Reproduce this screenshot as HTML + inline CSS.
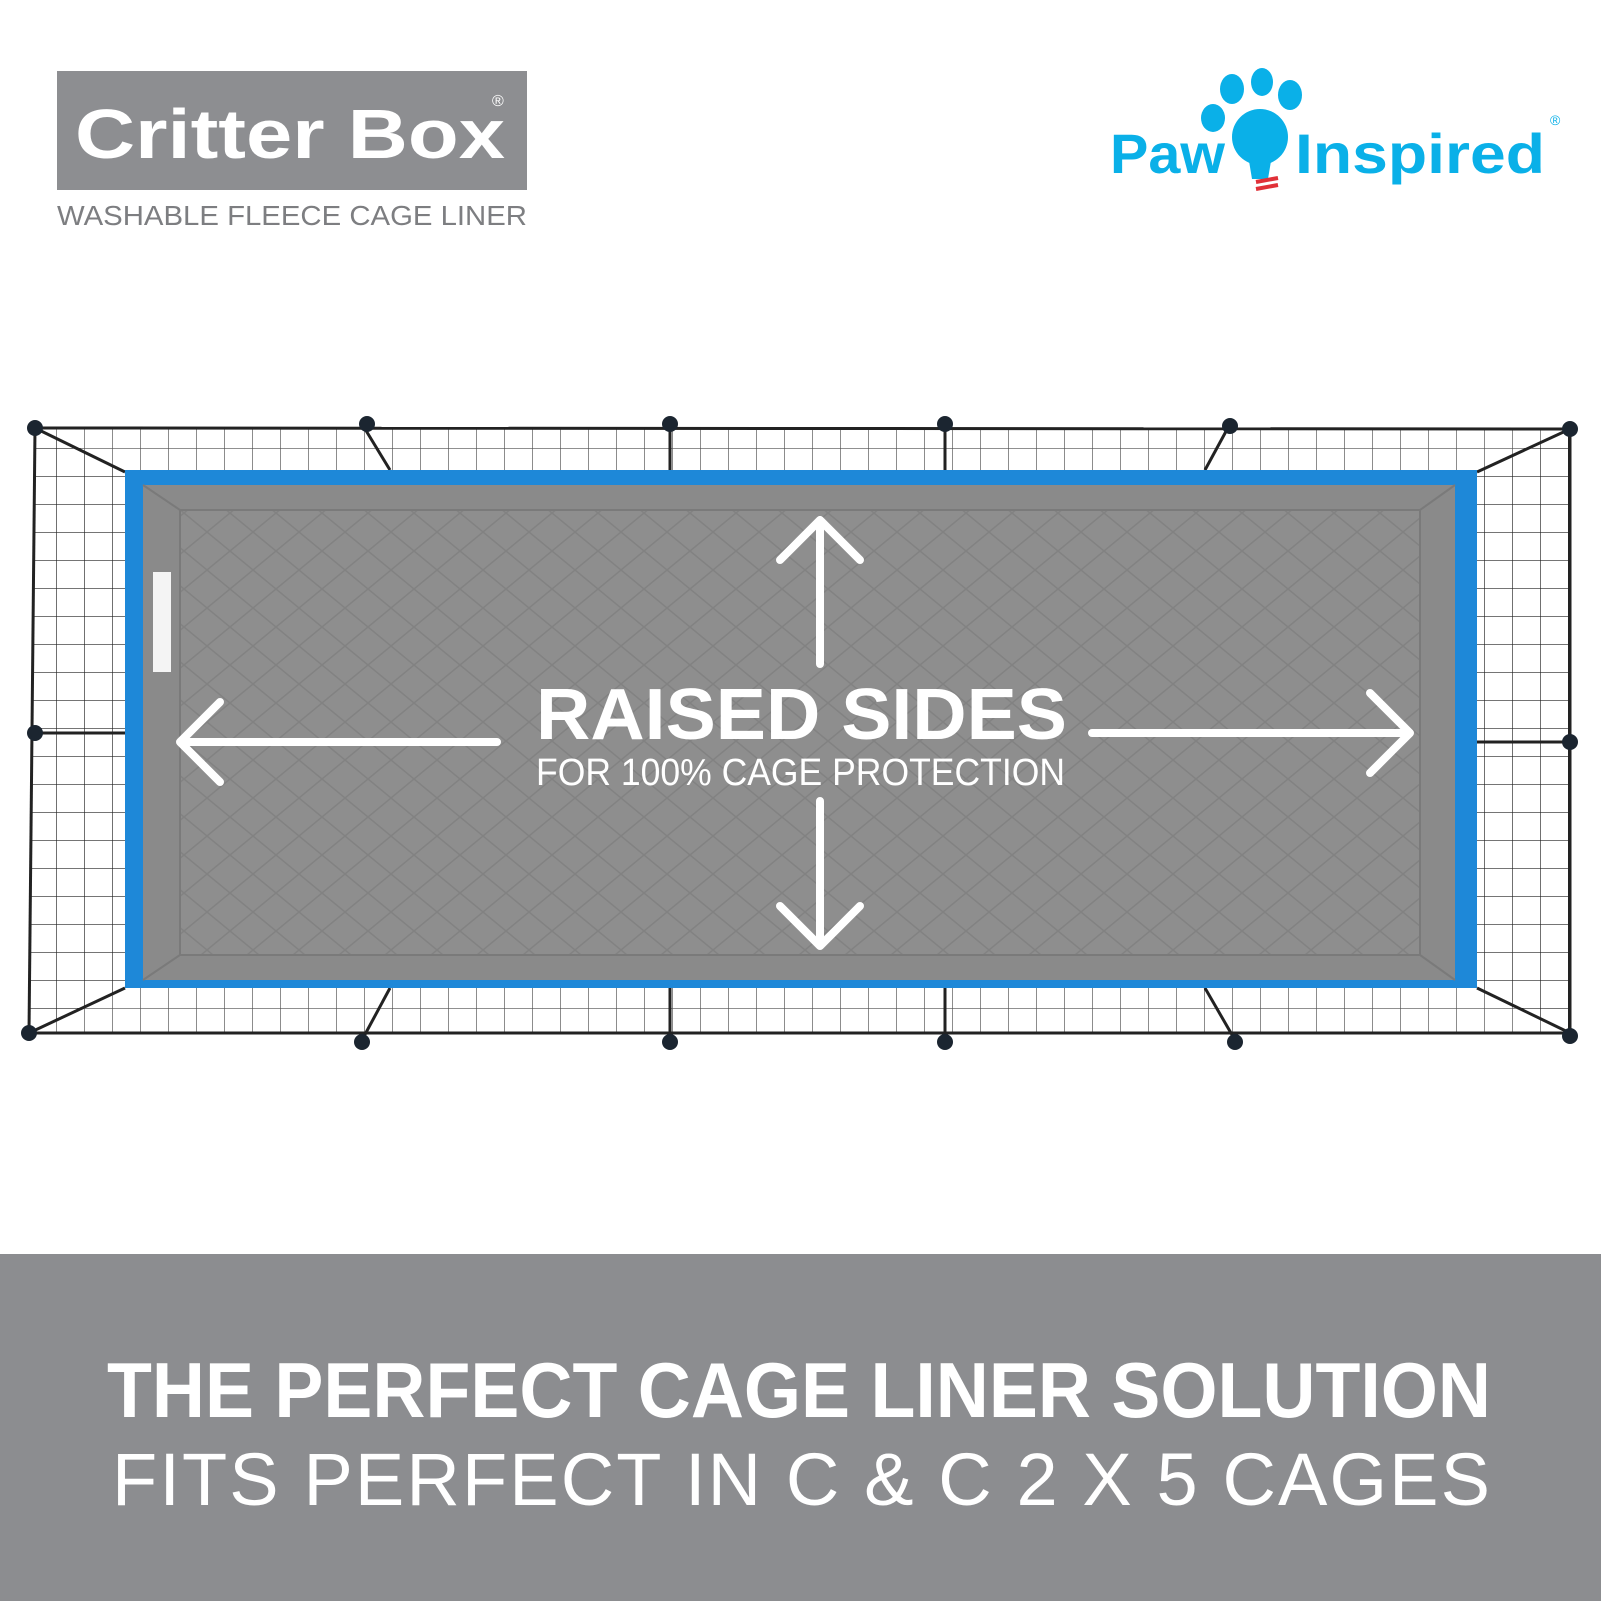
<!DOCTYPE html>
<html><head><meta charset="utf-8"><style>
body{margin:0;width:1601px;height:1601px;background:#fff;position:relative;overflow:hidden;font-family:"Liberation Sans",sans-serif}
.abs{position:absolute}
</style></head><body>
<svg class="abs" style="left:0;top:0" width="1601" height="1601">
<defs>
<pattern id="g" width="28" height="28" patternUnits="userSpaceOnUse"><path d="M0 0H28M0 0V28" stroke="#222" stroke-width="1.3" fill="none"/></pattern>
<pattern id="q" width="46" height="38" patternUnits="userSpaceOnUse"><path d="M0 19L23 0L46 19L23 38Z" stroke="#737373" stroke-width="1.5" fill="none" opacity=".45"/></pattern>
</defs>
<rect x="57" y="71" width="470" height="119" fill="#8d8e91"/>
<text x="75" y="158" font-family="Liberation Sans" font-weight="bold" font-size="70" fill="#fff" textLength="430" lengthAdjust="spacingAndGlyphs">Critter Box</text>
<text x="492" y="106" font-family="Liberation Sans" font-size="16" fill="#fff">®</text>
<text x="57" y="225" font-family="Liberation Sans" font-size="28" fill="#7d7e81" textLength="470" lengthAdjust="spacingAndGlyphs">WASHABLE FLEECE CAGE LINER</text>
<!-- cage grid strips -->
<polygon points="35,428 1570,429 1477,470 125,470" fill="url(#g)" opacity=".8"/>
<polygon points="35,428 125,470 125,988 29,1033" fill="url(#g)"/>
<polygon points="1570,429 1477,470 1477,988 1570,1033" fill="url(#g)"/>
<polygon points="125,988 1477,988 1570,1033 29,1033" fill="url(#g)" opacity=".8"/>
<g stroke="#222" stroke-width="3">
<line x1="35" y1="428" x2="1570" y2="429"/><line x1="29" y1="1033" x2="1570" y2="1033"/>
<line x1="35" y1="428" x2="125" y2="472"/><line x1="1570" y1="429" x2="1477" y2="472"/>
<line x1="29" y1="1033" x2="125" y2="988"/><line x1="1570" y1="1033" x2="1477" y2="988"/>
<line x1="35" y1="428" x2="29" y2="1033"/><line x1="1570" y1="429" x2="1570" y2="1033"/>
<line x1="362" y1="424" x2="390" y2="470"/><line x1="670" y1="424" x2="670" y2="470"/><line x1="945" y1="424" x2="945" y2="470"/><line x1="1230" y1="424" x2="1205" y2="470"/>
<line x1="362" y1="1040" x2="390" y2="988"/><line x1="670" y1="1040" x2="670" y2="988"/><line x1="945" y1="1040" x2="945" y2="988"/><line x1="1235" y1="1040" x2="1205" y2="988"/>
<line x1="35" y1="733" x2="125" y2="733"/><line x1="1570" y1="742" x2="1477" y2="742"/>
</g>
<g fill="#1b2530">
<circle cx="35" cy="428" r="8"/><circle cx="367" cy="424" r="8"/><circle cx="670" cy="424" r="8"/><circle cx="945" cy="424" r="8"/><circle cx="1230" cy="426" r="8"/><circle cx="1570" cy="429" r="8"/>
<circle cx="29" cy="1033" r="8"/><circle cx="362" cy="1042" r="8"/><circle cx="670" cy="1042" r="8"/><circle cx="945" cy="1042" r="8"/><circle cx="1235" cy="1042" r="8"/><circle cx="1570" cy="1036" r="8"/>
<circle cx="35" cy="733" r="8"/><circle cx="1570" cy="742" r="8"/>
</g>
<!-- liner -->
<rect x="125" y="470" width="1352" height="518" fill="#1e88d8"/>
<rect x="143" y="485" width="1312" height="495" fill="#8a8a8a"/>
<rect x="180" y="510" width="1240" height="445" fill="#8e8e8e"/>
<rect x="180" y="510" width="1240" height="445" fill="url(#q)"/>
<g stroke="#7a7a7a" stroke-width="2" fill="none"><path d="M143 485L180 510L1420 510L1455 485M180 510V955L143 980M1420 510V955L1455 980M180 955H1420"/></g>
<rect x="153" y="572" width="18" height="100" fill="#f4f4f4"/>
<!-- arrows -->
<g stroke="#fff" stroke-width="8" fill="none" stroke-linecap="round" stroke-linejoin="round">
<path d="M820 664V520M780 560L820 520L860 560"/>
<path d="M820 801V946M780 906L820 946L860 906"/>
<path d="M497 742H180M220 702L180 742L220 782"/>
<path d="M1092 733H1410M1370 693L1410 733L1370 773"/>
</g>
<!-- paw inspired logo -->
<g fill="#0ab0e8">
<ellipse cx="1232" cy="89" rx="12" ry="15"/><ellipse cx="1262" cy="82" rx="11" ry="14"/><ellipse cx="1290" cy="95" rx="12" ry="15"/><ellipse cx="1213" cy="118" rx="12" ry="14"/>
<circle cx="1260" cy="137" r="28"/><path d="M1248 155h24l-4 24h-16z"/>
</g>
<g stroke="#e03038" stroke-width="4"><line x1="1256" y1="182" x2="1278" y2="178"/><line x1="1256" y1="189" x2="1278" y2="185"/></g>
<text x="1110" y="173" font-family="Liberation Sans" font-weight="bold" font-size="56" fill="#0ab0e8" textLength="115" lengthAdjust="spacingAndGlyphs">Paw</text>
<text x="1295" y="173" font-family="Liberation Sans" font-weight="bold" font-size="56" fill="#0ab0e8" textLength="250" lengthAdjust="spacingAndGlyphs">Inspired</text>
<text x="1550" y="125" font-family="Liberation Sans" font-size="14" fill="#0ab0e8">®</text>
<!-- raised sides -->
<text x="536" y="739" font-family="Liberation Sans" font-weight="bold" font-size="72" fill="#fff" textLength="531" lengthAdjust="spacingAndGlyphs">RAISED SIDES</text>
<text x="536" y="785" font-family="Liberation Sans" font-size="38" fill="#fff" textLength="529" lengthAdjust="spacingAndGlyphs">FOR 100% CAGE PROTECTION</text>
<!-- bottom band -->
<rect x="0" y="1254" width="1601" height="347" fill="#8c8d90"/>
<text x="107" y="1417" font-family="Liberation Sans" font-weight="bold" font-size="78" fill="#fff" textLength="1384" lengthAdjust="spacingAndGlyphs">THE PERFECT CAGE LINER SOLUTION</text>
<text x="112" y="1505" font-family="Liberation Sans" font-size="74" fill="#fff" textLength="1378" lengthAdjust="spacing">FITS PERFECT IN C &amp; C  2 X 5 CAGES</text>
</svg>
</body></html>
